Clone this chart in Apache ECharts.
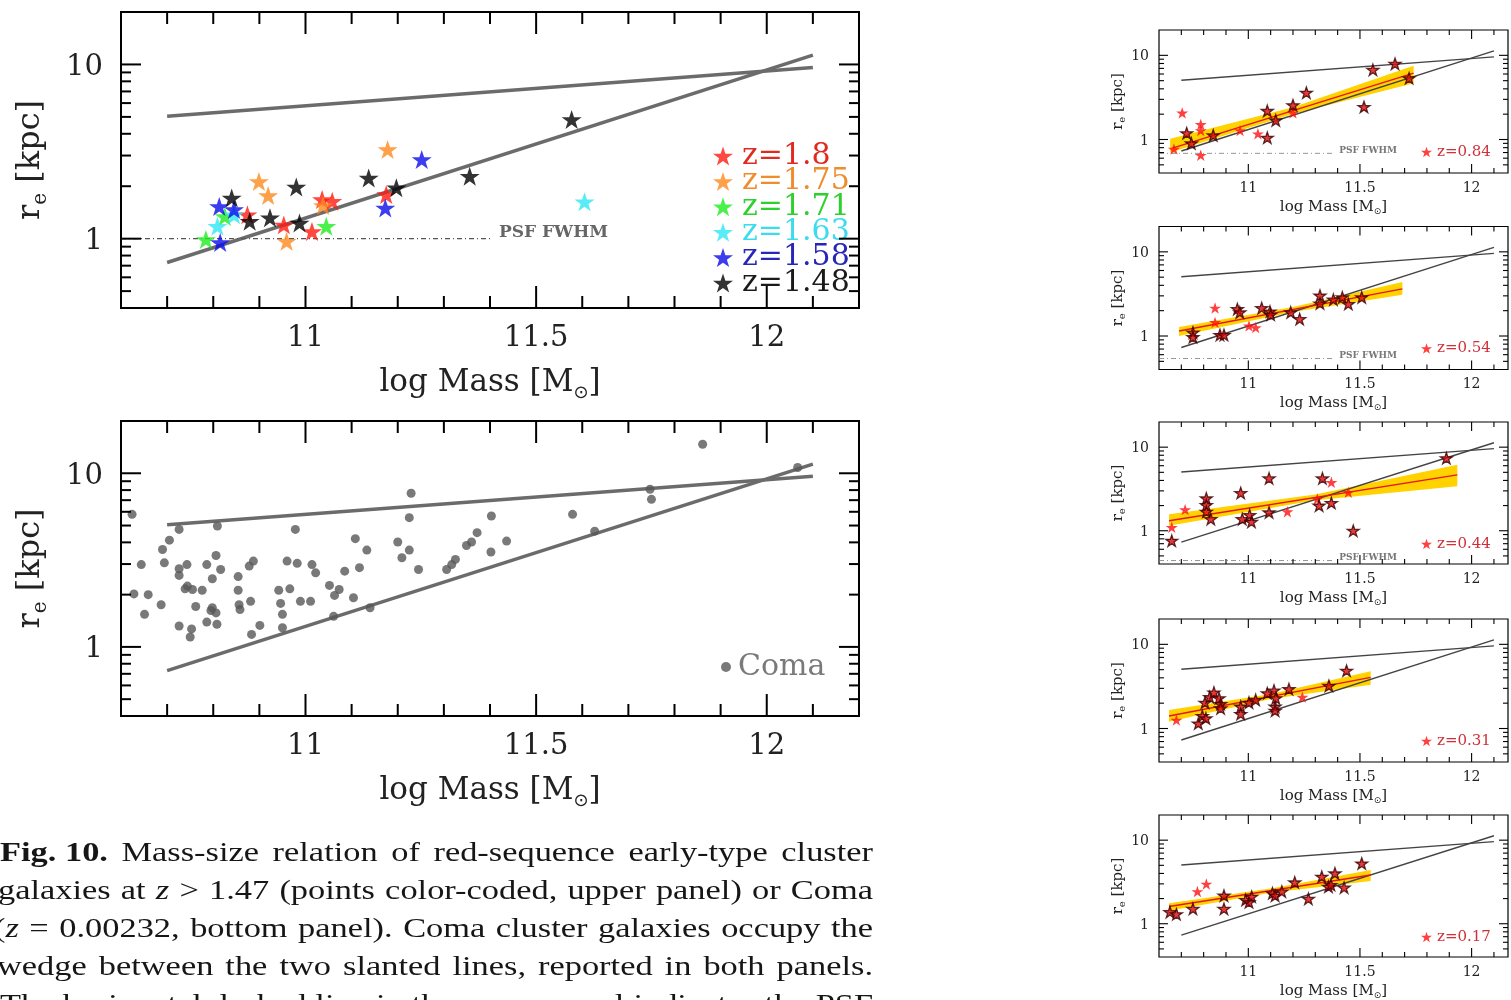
<!DOCTYPE html>
<html><head><meta charset="utf-8">
<script src="https://cdn.jsdelivr.net/npm/echarts@6/dist/echarts.min.js"></script>
<style>html,body{margin:0;padding:0;background:#fff}#c{width:1511px;height:1000px}</style>
</head><body><div id="c"></div>
<script>
// ---------- tick positions / labels ----------
const xMinorTicks = [10.7,10.8,10.9,11.1,11.2,11.3,11.4,11.6,11.7,11.8,11.9,12.1];
const xMajorTicks = [11,11.5,12];
const xTickLabels = ['11','11.5','12'];
const yMinorTicks = [0.5,0.6,0.7,0.8,0.9,2,3,4,5,6,7,8,9];
const yMajorTicks = [1,10];
const yTickLabels = ['1','10'];

// ---------- Coma wedge (both big panels and small panels) ----------
const wedgeUpper = [[10.7,5.05],[12.1,9.6]];
const wedgeLower = [[10.7,0.73],[12.1,11.3]];

// ---------- upper-left panel: z > 1.47 ----------
const psfHighZ = [[10.6,1.0],[11.4,1.0]];
const starsZ180 = [[10.874,1.37],[10.953,1.20],[11.014,1.10],[11.036,1.68],[11.058,1.64],[11.175,1.79]];
const starsZ175 = [[11.178,3.25],[10.899,2.13],[10.919,1.77],[10.959,0.965],[11.038,1.55]];
const starsZ171 = [[10.825,1.34],[11.045,1.18],[10.784,0.99]];
const starsZ163 = [[10.809,1.18],[10.845,1.37],[11.605,1.63]];
const starsZ158 = [[11.252,2.85],[11.173,1.50],[10.813,1.53],[10.845,1.47],[10.815,0.95]];
const starsZ148 = [[11.577,4.83],[11.356,2.28],[11.137,2.23],[11.197,1.96],[10.98,1.98],[10.84,1.71],[10.879,1.26],[10.923,1.32],[10.987,1.23]];

// ---------- lower-left panel: Coma ----------
const comaPoints = [
 [10.624,5.80],[10.726,4.75],[10.809,4.97],[10.978,4.75],[10.705,4.12],[10.690,3.64],[10.644,2.98],[10.694,3.05],
 [10.726,2.82],[10.743,2.98],[10.726,2.58],[10.806,3.36],[10.786,2.98],[10.816,2.79],[10.798,2.47],[10.854,2.54],
 [10.878,2.92],[10.887,3.12],[10.960,3.12],[10.982,3.03],[11.014,2.98],[11.022,2.67],[10.628,2.02],[10.659,2.00],
 [10.744,2.24],[10.739,2.16],[10.755,2.14],[10.776,2.12],[10.687,1.75],[10.651,1.54],[10.762,1.71],[10.798,1.68],
 [10.806,1.57],[10.795,1.62],[10.786,1.39],[10.808,1.35],[10.726,1.32],[10.753,1.27],[10.750,1.14],[10.854,2.12],
 [10.856,1.75],[10.858,1.64],[10.881,1.83],[10.901,1.33],[10.883,1.18],[10.942,2.12],[10.966,2.16],[10.946,1.78],
 [10.950,1.54],[10.950,1.29],[10.989,1.83],[11.011,1.83],
 [11.229,7.67],[11.225,5.55],[11.403,5.67],[11.108,4.20],[11.133,3.61],[11.200,4.02],[11.225,3.61],[11.209,3.26],
 [11.245,2.79],[11.117,2.86],[11.085,2.73],[11.052,2.26],[11.073,2.14],[11.063,1.98],[11.104,1.92],[11.140,1.68],
 [11.061,1.50],[11.306,2.79],[11.317,2.98],[11.325,3.19],[11.349,3.84],[11.360,4.02],[11.372,4.55],[11.402,3.52],
 [11.436,4.07],[11.579,5.80],[11.627,4.64],[11.747,8.09],[11.750,7.08],[11.861,14.7],[12.067,10.8]
];

// ---------- right-hand small panels ----------
const z084Outlined = [[10.724,1.19],[10.745,0.90],[10.843,1.12],[11.085,1.05],[11.085,2.19],[11.123,1.69],[11.200,2.56],[11.260,3.60],[11.518,2.44],[11.558,6.73],[11.657,7.94],[11.720,5.35]];
const z084Plain = [[10.667,0.77],[10.704,2.07],[10.787,1.51],[10.787,1.28],[10.787,0.65],[10.963,1.28],[11.043,1.17],[11.200,2.07]];
const z084Fit = [[10.66,0.79],[11.74,6.15]];
const z084BandX = [10.65,11.2,11.74];
const z084BandLo = [0.70,2.01,4.66];
const z084BandHi = [1.02,2.42,7.5];
const z084Psf = [[10.6,0.685],[11.385,0.685]];

const z054Outlined = [[10.752,1.10],[10.752,0.97],[10.873,1.03],[10.891,1.03],[10.951,2.09],[10.962,1.91],[11.060,2.15],[11.097,1.96],[11.100,1.79],[11.190,1.91],[11.230,1.59],[11.321,3.02],[11.321,2.44],[11.381,2.71],[11.421,2.88],[11.448,2.40],[11.508,2.88]];
const z054Plain = [[10.851,2.15],[10.851,1.45],[11.003,1.32],[11.033,1.26]];
const z054Fit = [[10.69,1.15],[11.69,3.63]];
const z054BandX = [10.69,11.2,11.69];
const z054BandLo = [1.0,1.93,3.1];
const z054BandHi = [1.28,2.21,4.37];
const z054Psf = [[10.6,0.54],[11.385,0.54]];

const z044Outlined = [[10.657,0.76],[10.812,2.44],[10.812,2.03],[10.812,1.69],[10.832,1.38],[10.966,2.83],[10.973,1.38],[11.006,1.54],[11.014,1.28],[11.093,4.24],[11.093,1.66],[11.317,2.0],[11.332,4.24],[11.372,2.15],[11.47,1.0],[11.887,7.38]];
const z044Plain = [[10.657,1.10],[10.717,1.79],[11.175,1.69],[11.309,2.40],[11.372,3.80],[11.448,2.88]];
const z044Fit = [[10.645,1.32],[11.936,4.66]];
const z044BandX = [10.645,11.3,11.936];
const z044BandLo = [1.15,2.31,3.40];
const z044BandHi = [1.58,2.71,6.14];
const z044Psf = [[10.6,0.44],[11.385,0.44]];

const z031Outlined = [[10.776,1.15],[10.794,1.41],[10.81,1.32],[10.806,2.03],[10.827,2.36],[10.846,2.68],[10.869,2.29],[10.876,1.96],[10.876,1.74],[10.966,1.82],[10.966,1.49],[11.003,2.03],[11.033,2.19],[11.085,2.63],[11.115,2.83],[11.123,2.29],[11.12,1.82],[11.12,1.63],[11.182,2.94],[11.361,3.22],[11.44,4.87]];
const z031Plain = [[10.678,1.26],[11.242,2.36]];
const z031Fit = [[10.645,1.41],[11.548,4.05]];
const z031BandX = [10.645,11.1,11.548];
const z031BandLo = [1.20,2.24,3.31];
const z031BandHi = [1.66,2.57,4.79];

const z017Outlined = [[10.649,1.38],[10.678,1.30],[10.752,1.51],[10.891,2.17],[10.891,1.51],[10.988,1.93],[11.003,1.81],[11.015,2.11],[11.108,2.32],[11.12,2.17],[11.15,2.43],[11.208,3.13],[11.269,1.99],[11.329,3.66],[11.359,2.78],[11.37,2.91],[11.388,4.01],[11.429,2.71],[11.508,5.27]];
const z017Plain = [[10.772,2.43],[10.812,2.99]];
const z017Fit = [[10.645,1.61],[11.548,3.83]];
const z017BandX = [10.645,11.1,11.548];
const z017BandLo = [1.43,2.35,3.25];
const z017BandHi = [1.76,2.64,4.39];

// ---------- caption ----------
const captionLines = [
 '**Fig.~10.** Mass-size relation of red-sequence early-type cluster',
 'galaxies at _z_ > 1.47 (points color-coded, upper panel) or Coma',
 '(_z_ = 0.00232, bottom panel). Coma cluster galaxies occupy the',
 'wedge between the two slanted lines, reported in both panels.',
 'The horizontal dashed line in the upper panel indicates the PSF'
];

// ================= layout & styling =================
const FONT = 'DejaVu Serif';
const STAR = 'path://M50,0L61.8,35.5L99,35.5L69,57.5L80.3,93L50,71.2L19.7,93L31,57.5L1,35.5L38.2,35.5Z';
const Y_MIN = 0.4, Y_MAX = 20, X_MIN = 10.6;
const grids = [
 {left:121, top:12, width:738, height:296, xMax:12.2, big:true},
 {left:121, top:421, width:738, height:295, xMax:12.2, big:true},
 {left:1159, top:30, width:349, height:143, xMax:12.163, big:false},
 {left:1159, top:226.5, width:349, height:143, xMax:12.163, big:false},
 {left:1159, top:422, width:349, height:142, xMax:12.163, big:false},
 {left:1159, top:619, width:349, height:143, xMax:12.163, big:false},
 {left:1159, top:815, width:349, height:142, xMax:12.163, big:false}
];

const fmtX = v => { const i = xMajorTicks.findIndex(t => Math.abs(t - v) < 1e-6); return i >= 0 ? xTickLabels[i] : ''; };
const fmtY = v => { const i = yMajorTicks.findIndex(t => Math.abs(t - v) < 1e-6 * t); return i >= 0 ? yTickLabels[i] : ''; };

const xAxes = grids.map((g, i) => ({
  gridIndex:i, type:'value', min:X_MIN, max:g.xMax, interval:0.1,
  axisLine:{show:false}, axisTick:{show:false}, splitLine:{show:false}, minorTick:{show:false},
  axisLabel:{formatter:fmtX, fontFamily:FONT, fontSize:g.big?29:14, color:'#222', margin:g.big?16:8},
  name:'log Mass [M{s|⊙}]', nameLocation:'middle', nameGap:g.big?56:25,
  nameTextStyle:{fontFamily:FONT, fontSize:g.big?31:15, color:'#222', lineHeight:g.big?38:18,
    rich:{s:{fontFamily:'DejaVu Sans', fontSize:g.big?18:9, color:'#222', verticalAlign:'bottom', lineHeight:g.big?20:10}}}
}));
const yAxes = grids.map((g, i) => ({
  gridIndex:i, type:'log', logBase:10, min:Y_MIN, max:Y_MAX,
  axisLine:{show:false}, axisTick:{show:false}, splitLine:{show:false}, minorTick:{show:false}, minorSplitLine:{show:false},
  axisLabel:{formatter:fmtY, fontFamily:FONT, fontSize:g.big?29:14, color:'#222', margin:g.big?18:10,
    verticalAlign:'top', lineHeight:g.big?6:3},
  name:'r{e|e} [kpc]', nameLocation:'middle', nameGap:g.big?70:30, nameRotate:90,
  nameTextStyle:{fontFamily:FONT, fontSize:g.big?32:15, color:'#222', lineHeight:g.big?40:19,
    rich:{e:{fontFamily:FONT, fontSize:g.big?20:10, color:'#222', verticalAlign:'bottom', lineHeight:g.big?22:11}}}
}));

const series = [];
const line = (gi, data, color, width, z, extra) => Object.assign({
  type:'line', xAxisIndex:gi, yAxisIndex:gi, data, symbol:'none', showSymbol:false, silent:true, z,
  lineStyle:{color, width}, animation:false
}, extra || {});

function psfLine(gi, data, big) {
  return line(gi, data, big ? '#555' : '#777', big ? 1.3 : 0.8, 2, {
    lineStyle:{color: big ? '#555' : '#777', width: big ? 1.3 : 0.8, type:[5,3,1,3]},
    endLabel:{show:true, formatter:'PSF FWHM', color:big?'#666':'#777', fontFamily:FONT,
      fontSize:big?17:9, fontWeight:'bold', distance:big?9:5, offset:[0, big?-6:-3]}
  });
}

function tickSeries(gi) {
  const g = grids[gi];
  const L = g.big ? {xMaj:22, xMin:12, yMaj:20, yMin:10, w:2} : {xMaj:9, xMin:5, yMaj:9, yMin:5, w:1.1};
  return {
    type:'custom', xAxisIndex:gi, yAxisIndex:gi, data:[[11,1]], silent:true, z:10, animation:false,
    renderItem(params, api) {
      const ch = [];
      const add = (a, b) => ch.push({type:'line', shape:{x1:a[0], y1:a[1], x2:b[0], y2:b[1]}, style:{stroke:'#000', lineWidth:L.w}});
      const xt = (t, len) => {
        const b = api.coord([t, Y_MIN]), tp = api.coord([t, Y_MAX]);
        add(b, [b[0], b[1] - len]); add(tp, [tp[0], tp[1] + len]);
      };
      const yt = (t, len) => {
        const l = api.coord([X_MIN, t]), r = api.coord([g.xMax, t]);
        add(l, [l[0] + len, l[1]]); add(r, [r[0] - len, r[1]]);
      };
      xMinorTicks.forEach(t => xt(t, L.xMin));
      xMajorTicks.forEach(t => xt(t, L.xMaj));
      yMinorTicks.forEach(t => yt(t, L.yMin));
      yMajorTicks.forEach(t => yt(t, L.yMaj));
      return {type:'group', children:ch};
    }
  };
}

function bandSeries(gi, bx, lo, hi) {
  return {
    type:'custom', xAxisIndex:gi, yAxisIndex:gi, data:bx.map((x, k) => [x, lo[k], hi[k]]), silent:true, z:1, animation:false,
    renderItem(params, api) {
      if (params.dataIndex !== 0) return null;
      const pts = [];
      for (let k = 0; k < bx.length; k++) pts.push(api.coord([bx[k], hi[k]]));
      for (let k = bx.length - 1; k >= 0; k--) pts.push(api.coord([bx[k], lo[k]]));
      return {type:'polygon', shape:{points:pts}, style:{fill:'#ffd200'}};
    }
  };
}

// --- panel 0: high-z stars
const highZ = [
  {name:'z=1.8',  data:starsZ180, fill:'#ff1a10', text:'#e02a20'},
  {name:'z=1.75', data:starsZ175, fill:'#ff8a1e', text:'#ef8c2c'},
  {name:'z=1.71', data:starsZ171, fill:'#1eee1e', text:'#2ed02e'},
  {name:'z=1.63', data:starsZ163, fill:'#2ee8f4', text:'#3cdcec'},
  {name:'z=1.58', data:starsZ158, fill:'#0c0cec', text:'#2626b8'},
  {name:'z=1.48', data:starsZ148, fill:'#000000', text:'#1a1a1a'}
];
series.push(line(0, wedgeUpper, '#6b6b6b', 3.5, 2));
series.push(line(0, wedgeLower, '#6b6b6b', 3.5, 2));
series.push(psfLine(0, psfHighZ, true));
highZ.forEach(s => series.push({type:'scatter', name:s.name, xAxisIndex:0, yAxisIndex:0, data:s.data,
  symbol:STAR, symbolSize:20, symbolKeepAspect:true, itemStyle:{color:s.fill}, silent:true, z:4, animation:false}));

// --- panel 1: Coma
series.push(line(1, wedgeUpper, '#6b6b6b', 3.5, 2));
series.push(line(1, wedgeLower, '#6b6b6b', 3.5, 2));
series.push({type:'scatter', name:'Coma', xAxisIndex:1, yAxisIndex:1, data:comaPoints, symbol:'circle', symbolSize:9,
  itemStyle:{color:'#585858'}, silent:true, z:4, animation:false});

// --- small panels
const smallPanels = [
  {name:'z=0.84', outlined:z084Outlined, plain:z084Plain, fit:z084Fit, bx:z084BandX, lo:z084BandLo, hi:z084BandHi, psf:z084Psf},
  {name:'z=0.54', outlined:z054Outlined, plain:z054Plain, fit:z054Fit, bx:z054BandX, lo:z054BandLo, hi:z054BandHi, psf:z054Psf},
  {name:'z=0.44', outlined:z044Outlined, plain:z044Plain, fit:z044Fit, bx:z044BandX, lo:z044BandLo, hi:z044BandHi, psf:z044Psf},
  {name:'z=0.31', outlined:z031Outlined, plain:z031Plain, fit:z031Fit, bx:z031BandX, lo:z031BandLo, hi:z031BandHi, psf:null},
  {name:'z=0.17', outlined:z017Outlined, plain:z017Plain, fit:z017Fit, bx:z017BandX, lo:z017BandLo, hi:z017BandHi, psf:null}
];
smallPanels.forEach((p, k) => {
  const gi = k + 2;
  series.push(bandSeries(gi, p.bx, p.lo, p.hi));
  series.push(line(gi, wedgeUpper, '#444', 1.4, 2));
  series.push(line(gi, wedgeLower, '#444', 1.4, 2));
  if (p.psf) series.push(psfLine(gi, p.psf, false));
  series.push(line(gi, p.fit, '#e8141c', 1.5, 3));
  series.push({type:'scatter', name:p.name, xAxisIndex:gi, yAxisIndex:gi, data:p.plain, symbol:STAR, symbolSize:12,
    symbolKeepAspect:true, itemStyle:{color:'#ff1010'}, silent:true, z:4, animation:false});
  series.push({type:'scatter', name:p.name + ' (o)', xAxisIndex:gi, yAxisIndex:gi, data:p.outlined, symbol:STAR, symbolSize:12,
    symbolKeepAspect:true, itemStyle:{color:'#e00808', borderColor:'#3a0000', borderWidth:1.3}, silent:true, z:4, animation:false});
});
grids.forEach((g, i) => series.push(tickSeries(i)));

// --- legends
const legends = [
  {orient:'vertical', left:708, top:136, itemWidth:20, itemHeight:20, itemGap:-4.6, selectedMode:false,
   data:highZ.map(s => ({name:s.name, textStyle:{color:s.text}})),
   textStyle:{fontFamily:FONT, fontSize:30, padding:[0,0,0,4]}},
  {left:716, top:647, itemWidth:10, itemHeight:10, selectedMode:false, data:[{name:'Coma'}],
   textStyle:{fontFamily:FONT, fontSize:30, color:'#7a7a7a', padding:[0,0,0,2]}}
];
smallPanels.forEach((p, k) => legends.push({left:1416, top:grids[k + 2].top + 109, itemWidth:11, itemHeight:11,
  selectedMode:false, data:[{name:p.name}], textStyle:{fontFamily:FONT, fontSize:15, color:'#d0303a', lineHeight:16}}));

// --- caption (justified text lines)
const capSize = 28, capFamily = "'Liberation Serif', 'Times New Roman', serif", capRight = 873, capNatGap = 9;
const capStarts = [0, -2, -6, -3, 0];
const capBaselines = [863, 901, 939, 977, 1015];
const mctx = document.createElement('canvas').getContext('2d');
const segFont = k => (k === 'i' ? 'italic ' : '') + (k === 'b' ? 'bold ' : '') + capSize + 'px ' + capFamily;
function parseWord(w) {
  const segs = [];
  const re = /\*\*(.+?)\*\*|_(.+?)_|([^*_]+)/g;
  let m;
  while ((m = re.exec(w)) !== null) {
    if (m[1] !== undefined) segs.push({t:m[1].replace(/~/g, ' '), k:'b'});
    else if (m[2] !== undefined) segs.push({t:m[2], k:'i'});
    else segs.push({t:m[3].replace(/~/g, ' '), k:'n'});
  }
  segs.forEach(s => { mctx.font = segFont(s.k); s.w = mctx.measureText(s.t).width; });
  return segs;
}
const capParsed = captionLines.map(ln => ln.split(' ').map(parseWord));
const capTotals = capParsed.map(words => words.reduce((a, w) => a + w.reduce((b, s) => b + s.w, 0), 0));
const capScale = Math.min(...capParsed.map((words, li) =>
  (capRight - capStarts[li] - capNatGap * (words.length - 1)) / capTotals[li]));
const graphics = [];
capParsed.forEach((words, li) => {
  const gap = (capRight - capStarts[li] - capScale * capTotals[li]) / (words.length - 1);
  let x = capStarts[li];
  const y = capBaselines[li] - 0.3375 * capSize;
  words.forEach(w => {
    w.forEach(s => {
      graphics.push({type:'text', x, y, scaleX:capScale, silent:true, style:{text:s.t,
        font:segFont(s.k), fill:'#161616', align:'left', verticalAlign:'middle'}});
      x += s.w * capScale;
    });
    x += gap;
  });
});

const chart = echarts.init(document.getElementById('c'));
chart.setOption({
  backgroundColor:'#ffffff',
  animation:false,
  grid:grids.map(g => ({left:g.left, top:g.top, width:g.width, height:g.height, show:true, borderColor:'#000',
    borderWidth:g.big ? 2 : 1.2, backgroundColor:'transparent', containLabel:false, outerBoundsMode:'none'})),
  xAxis:xAxes,
  yAxis:yAxes,
  legend:legends,
  series,
  graphic:graphics
});
</script>
</body></html>
